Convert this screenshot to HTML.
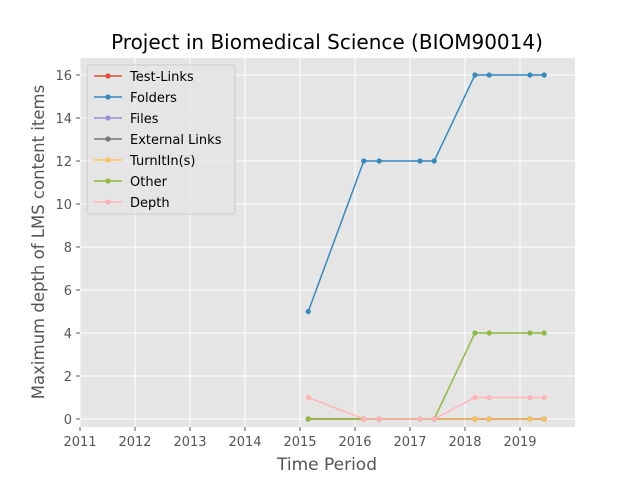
<!DOCTYPE html>
<html><head><meta charset="utf-8"><style>
body{margin:0;background:#fff;}
svg{display:block;font-family:"DejaVu Sans","Liberation Sans",sans-serif;}
</style></head><body>
<svg id="chart" width="640" height="480">
<rect x="0" y="0" width="640" height="480" fill="#fff"/>
<rect x="80" y="58" width="495" height="369" fill="#E5E5E5"/>
<g id="grid"></g><g id="ticks"></g><g id="series"></g>
<text x="327" y="49" font-size="20" text-anchor="middle" fill="#000">Project in Biomedical Science (BIOM90014)</text>
<text x="327" y="470" font-size="17" text-anchor="middle" fill="#555">Time Period</text>
<text transform="translate(44,242) rotate(-90)" font-size="16.5" text-anchor="middle" fill="#555">Maximum depth of LMS content items</text>
<g id="legend"></g>
</svg>
<script>
const xTicks=[2011,2012,2013,2014,2015,2016,2017,2018,2019];
const yTicks=[0,2,4,6,8,10,12,14,16];
const dates=[2015.15,2016.16,2016.44,2017.18,2017.44,2018.18,2018.44,2019.18,2019.44];
const seriesNames=["Test-Links","Folders","Files","External Links","TurnItIn(s)","Other","Depth"];
const seriesColors=["#E24A33","#348ABD","#988ED5","#777777","#FBC15E","#8EBA42","#FFB5B8"];
const testLinks=[0,0,0,0,0,0,0,0,0];
const folders=[5,12,12,12,12,16,16,16,16];
const files=[0,0,0,0,0,0,0,0,0];
const externalLinks=[0,0,0,0,0,0,0,0,0];
const turnitin=[0,0,0,0,0,0,0,0,0];
const other=[0,0,0,0,0,4,4,4,4];
const depth=[1,0,0,0,0,1,1,1,1];
const allSeries=[testLinks,folders,files,externalLinks,turnitin,other,depth];
const NS="http://www.w3.org/2000/svg";
const X=v=>80+(v-2011)*55;
const Y=v=>419-v*21.5;
function mk(tag,attrs,parent){const e=document.createElementNS(NS,tag);for(const k in attrs)e.setAttribute(k,attrs[k]);parent.appendChild(e);return e;}
const grid=document.getElementById('grid'),ticks=document.getElementById('ticks'),ser=document.getElementById('series'),leg=document.getElementById('legend');
xTicks.forEach(t=>{
 const l=mk('line',{x1:X(t),x2:X(t),y1:58,y2:427,stroke:'#fff','stroke-width':1},grid);
 
 
 const tk=mk('line',{x1:X(t),x2:X(t),y1:427,y2:431,stroke:'#555'},ticks);
 
 
 const tx=mk('text',{x:X(t),y:446,'font-size':13,'text-anchor':'middle',fill:'#555'},ticks);
 tx.textContent=t;
 
 
});
yTicks.forEach(t=>{
 const l=mk('line',{x1:80,x2:575,y1:Y(t),y2:Y(t),stroke:'#fff','stroke-width':1},grid);
 
 
 const tk=mk('line',{x1:76,x2:80,y1:Y(t),y2:Y(t),stroke:'#555'},ticks);
 
 
 const tx=mk('text',{x:72,y:Y(t)+5,'font-size':13,'text-anchor':'end',fill:'#555'},ticks);
 tx.textContent=t;
 
 
});
allSeries.forEach((s,i)=>{
 const g=mk('g',{},ser);
 
 
 const p=mk('polyline',{points:s.map((v,j)=>X(dates[j])+','+Y(v)).join(' '),fill:'none',stroke:seriesColors[i],'stroke-width':1.5},g);
 
 
 s.forEach((v,j)=>{
  const c=mk('circle',{cx:X(dates[j]),cy:Y(v),r:2.6,fill:seriesColors[i]},g);
  
  
 });
});
const box=mk('rect',{x:87,y:65,width:148,height:149,rx:3,fill:'#E5E5E5',stroke:'#ccc','fill-opacity':0.8},leg);


seriesNames.forEach((n,i)=>{
 const y=76+i*21;
 const g=mk('g',{},leg);
 
 
 mk('line',{x1:94,x2:122,y1:y,y2:y,stroke:seriesColors[i],'stroke-width':1.5},g);
 mk('circle',{cx:108,cy:y,r:2.6,fill:seriesColors[i]},g);
 const t=mk('text',{x:130,y:y+5,'font-size':13,fill:'#000'},g);
 t.textContent=n;
});
</script>
</body></html>
